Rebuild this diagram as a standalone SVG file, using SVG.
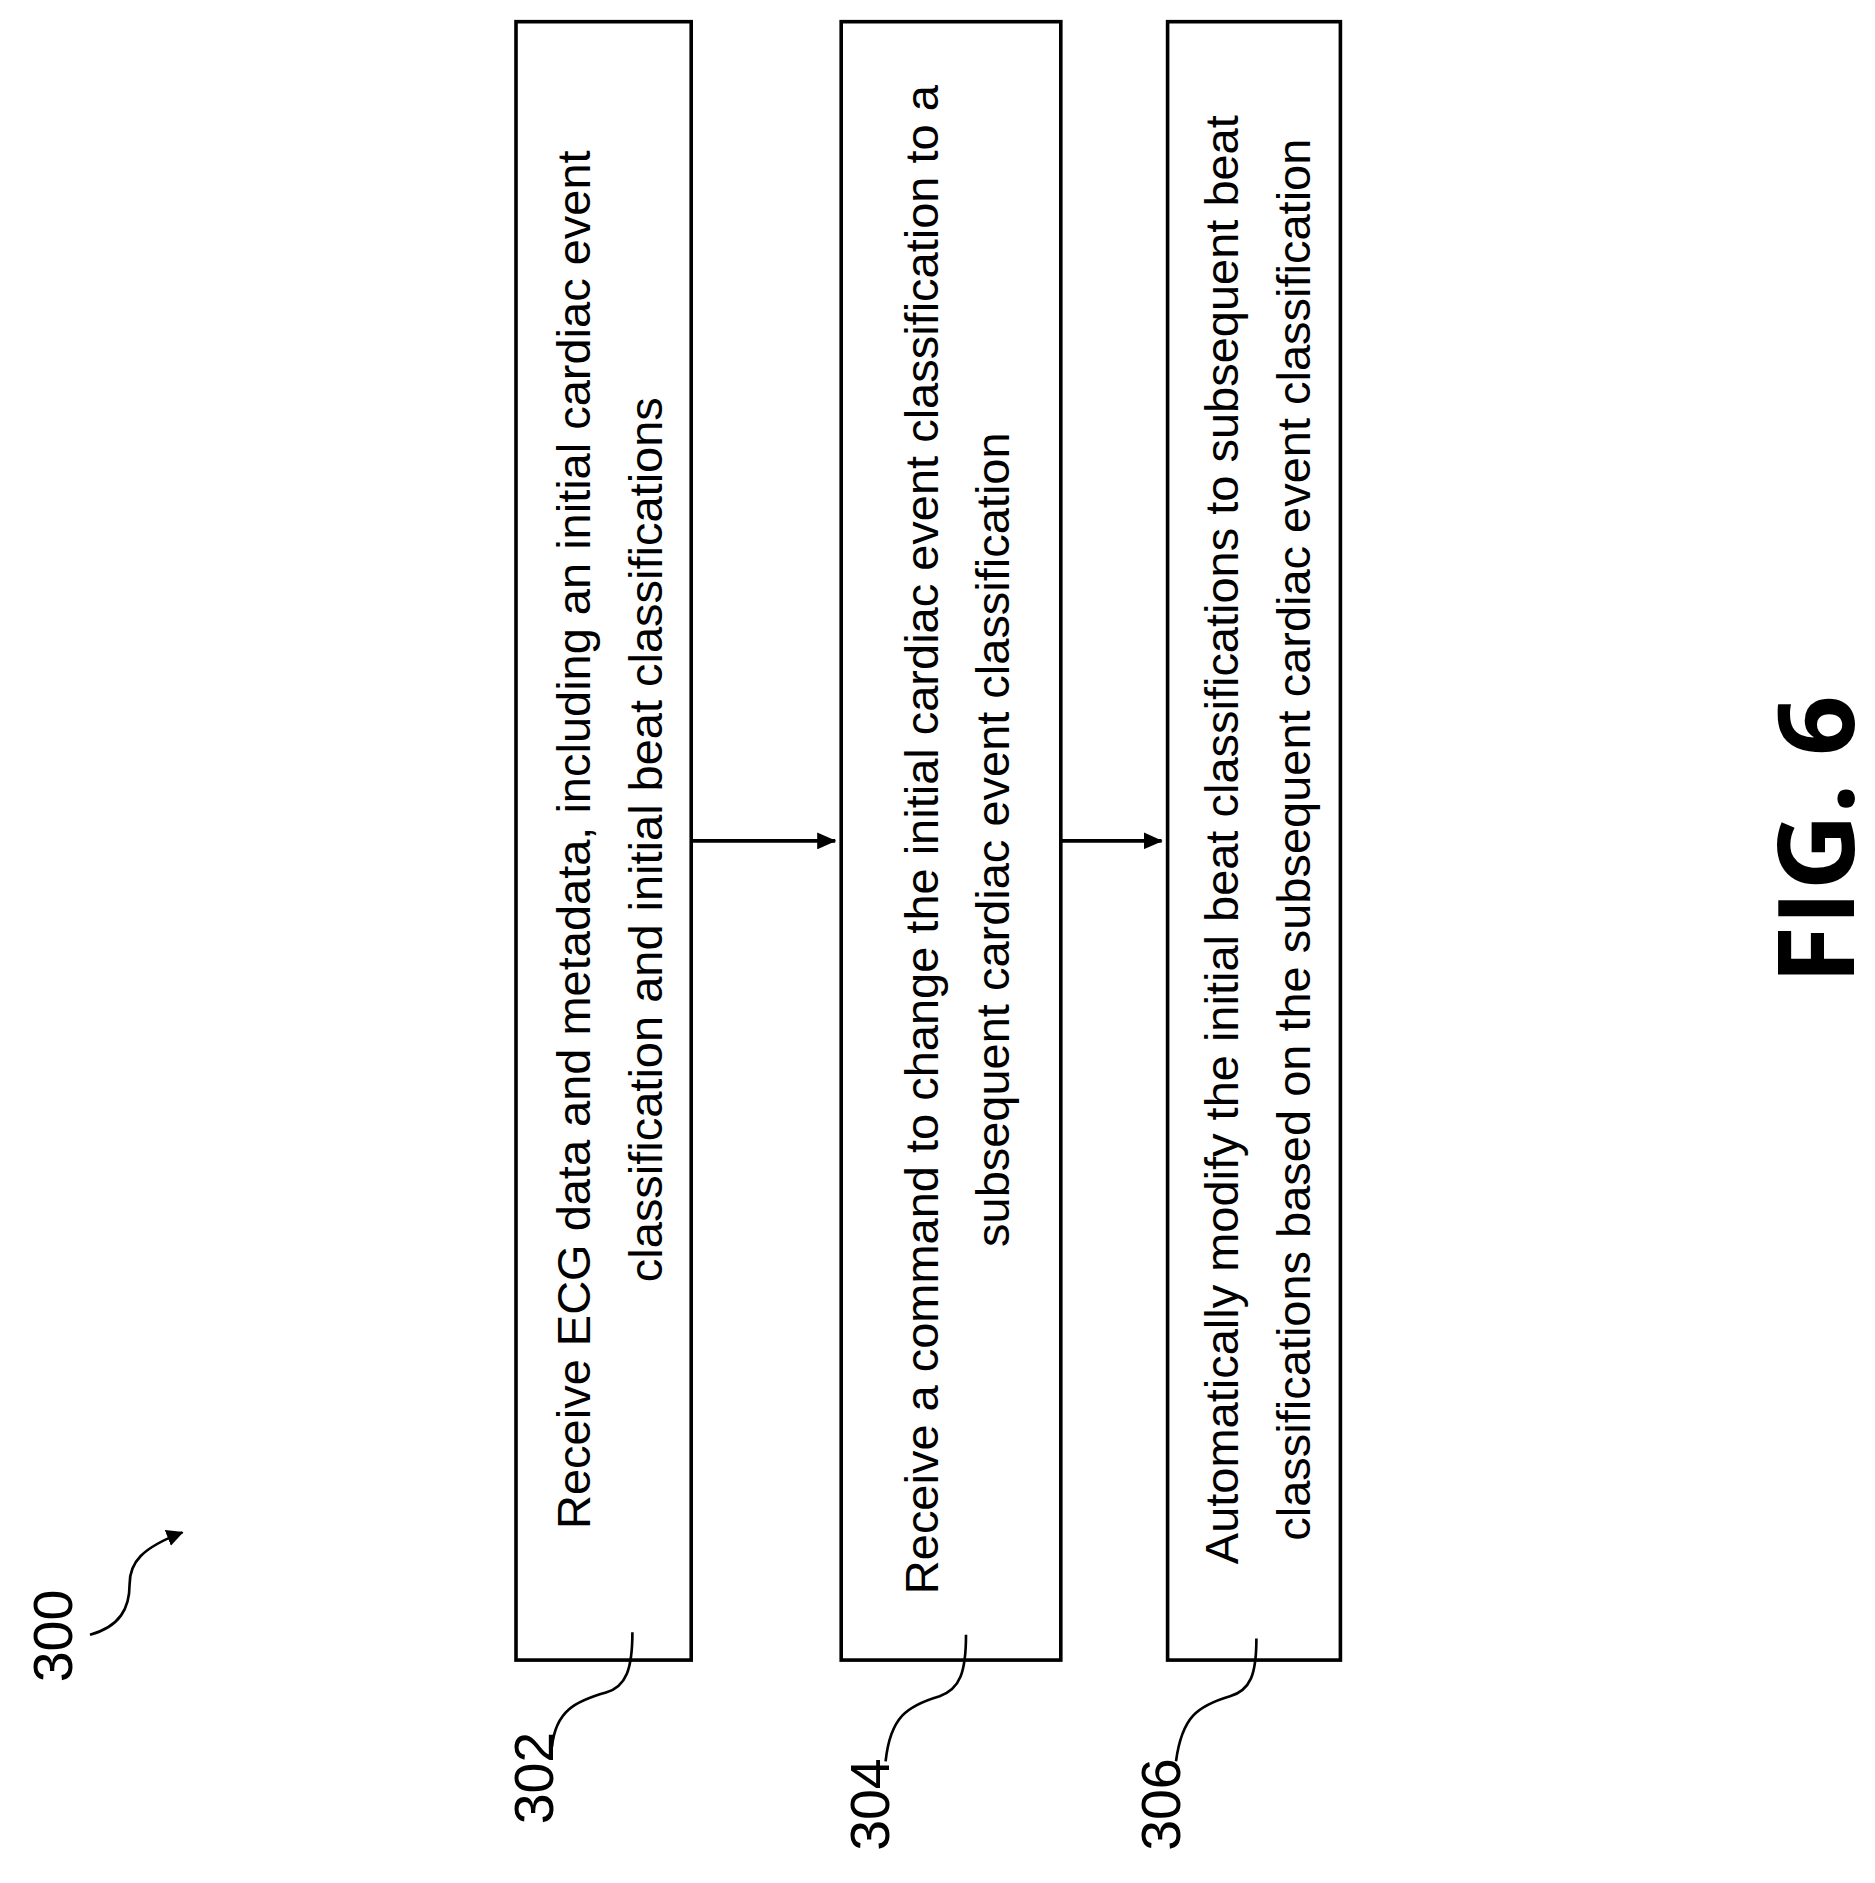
<svg xmlns="http://www.w3.org/2000/svg" width="1875" height="1883" viewBox="0 0 1875 1883">
<style>
.box{fill:#fff;stroke:#000;stroke-width:3}
.t{font-family:"Liberation Sans",Arial,sans-serif;font-size:39px;fill:#000;text-anchor:middle}
.lbl{font-family:"Liberation Sans",Arial,sans-serif;font-size:46px;fill:#000;text-anchor:middle}
.ln{fill:none;stroke:#000;stroke-width:2.2}
.cn{fill:none;stroke:#000;stroke-width:3}
</style>
<defs>
<marker id="ah" markerWidth="16" markerHeight="14" refX="15" refY="7" orient="auto" markerUnits="userSpaceOnUse" viewBox="0 0 16 14"><path d="M0,0 L16,7 L0,14 z" fill="#000"/></marker>
<marker id="ah2" markerWidth="14" markerHeight="14" refX="13" refY="7" orient="auto" markerUnits="userSpaceOnUse" viewBox="0 0 14 14"><path d="M0,0 L14,7 L0,14 z" fill="#000"/></marker>
</defs>
<rect width="1875" height="1883" fill="#fff"/>
<g transform="scale(1.2,1.2047)">
<g id="n302">
<rect class="box" x="430" y="18" width="146" height="1360"/>
<text class="t" transform="translate(492,697) rotate(-90)">Receive ECG data and metadata, including an initial cardiac event</text>
<text class="t" transform="translate(552,697) rotate(-90)">classification and initial beat classifications</text>
</g>
<g id="n304">
<rect class="box" x="701" y="18" width="183" height="1360"/>
<text class="t" transform="translate(782,697) rotate(-90)">Receive a command to change the initial cardiac event classification to a</text>
<text class="t" transform="translate(841,697) rotate(-90)">subsequent cardiac event classification</text>
</g>
<g id="n306">
<rect class="box" x="973" y="18" width="144" height="1360"/>
<text class="t" transform="translate(1032,697) rotate(-90)">Automatically modify the initial beat classifications to subsequent beat</text>
<text class="t" transform="translate(1092,697) rotate(-90)">classifications based on the subsequent cardiac event classification</text>
</g>
<g id="labels">
<text class="lbl" transform="translate(60,1358) rotate(-90)">300</text>
<text class="lbl" transform="translate(461,1476) rotate(-90)">302</text>
<text class="lbl" transform="translate(741,1498) rotate(-90)">304</text>
<text class="lbl" transform="translate(983,1498) rotate(-90)">306</text>
<text transform="translate(1545,697) rotate(-90)" font-family="'Open Sans','Liberation Sans',sans-serif" font-weight="bold" font-size="88" text-anchor="middle">FIG. 6</text>
</g>
<g id="connectors">
<line class="cn" x1="576" y1="698" x2="696" y2="698" marker-end="url(#ah)"/>
<line class="cn" x1="884" y1="698" x2="968" y2="698" marker-end="url(#ah)"/>
<path class="ln" d="M527,1355 C527,1385 522,1400 505,1405 C480,1412 463,1420 460,1450"/>
<path class="ln" d="M805,1357 C805,1388 800,1402 783,1408 C756,1416 742,1425 738,1462"/>
<path class="ln" d="M1047,1360 C1047,1390 1042,1403 1025,1408 C998,1416 985,1425 980,1462"/>
<path class="ln" d="M75,1357 C100,1350 108,1335 108,1315 C108,1297 118,1285 152,1272" marker-end="url(#ah2)"/>
</g>
</g>
</svg>
